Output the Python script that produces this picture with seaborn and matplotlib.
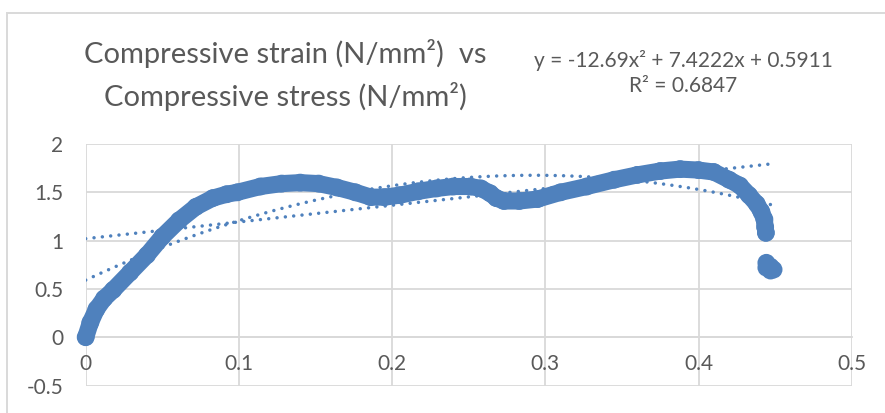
import numpy as np
import pandas as pd
import matplotlib
matplotlib.use("Agg")
import matplotlib.pyplot as plt
from matplotlib.patches import Rectangle
import seaborn as sns

# ---- data ----
strain = [0.000, 0.003, 0.007, 0.012, 0.018, 0.029, 0.040, 0.050, 0.061,
          0.072, 0.083, 0.092, 0.099, 0.114, 0.128, 0.140, 0.152, 0.164, 0.176,
          0.186, 0.195, 0.205, 0.217, 0.229, 0.240, 0.251, 0.258, 0.264, 0.268,
          0.273, 0.283, 0.295, 0.310, 0.327, 0.345, 0.360, 0.375, 0.388, 0.400,
          0.410, 0.420, 0.427, 0.433, 0.438, 0.441, 0.443, 0.4435, 0.444]
stress = [0.00, 0.15, 0.29, 0.40, 0.49, 0.67, 0.85, 1.04, 1.21,
          1.35, 1.44, 1.48, 1.50, 1.56, 1.59, 1.60, 1.59, 1.55, 1.50,
          1.45, 1.45, 1.47, 1.51, 1.54, 1.56, 1.56, 1.54, 1.49, 1.44,
          1.41, 1.41, 1.43, 1.50, 1.56, 1.63, 1.68, 1.72, 1.74, 1.73,
          1.71, 1.63, 1.57, 1.47, 1.38, 1.30, 1.22, 1.14, 1.08]
tail_strain = [0.4443, 0.4443, 0.447, 0.449, 0.447]
tail_stress = [0.77, 0.72, 0.73, 0.70, 0.69]

poly_coef = [-12.69, 7.4222, 0.5911]      # quadratic trendline (from label)
lin_coef = [1.73, 1.02]                  # linear trendline
x_ticks = [0, 0.1, 0.2, 0.3, 0.4, 0.5]
y_ticks = [-0.5, 0, 0.5, 1, 1.5, 2]
title_text = "Compressive strain (N/mm\u00b2)  vs\nCompressive stress (N/mm\u00b2)"
eq_text = "y = -12.69x\u00b2 + 7.4222x + 0.5911\nR\u00b2 = 0.6847"

BLUE = "#4f81bd"
GRID = "#d9d9d9"
TXT = "#595959"

sns.set_theme(style="white")
plt.rcParams['font.family'] = ['Lato', 'DejaVu Sans']

W, H = 885, 413
fig = plt.figure(figsize=(W / 100, H / 100), dpi=100)
ax = fig.add_axes([85.7 / W, 1 - 385.5 / H, (851.7 - 85.7) / W, (385.5 - 144) / H])

main = pd.DataFrame({"x": strain, "y": stress})
tail = pd.DataFrame({"x": tail_strain, "y": tail_stress})
allpts = pd.concat([main, tail], ignore_index=True)

sns.lineplot(data=main, x="x", y="y", sort=False, estimator=None, ax=ax,
             color=BLUE, linewidth=12.3, solid_capstyle="round",
             solid_joinstyle="round", zorder=3, clip_on=False)
sns.scatterplot(data=allpts, x="x", y="y", ax=ax, color=BLUE, s=165,
                edgecolor="none", linewidth=0, zorder=3, clip_on=False)

xs = np.linspace(0, max(tail_strain), 300)
trend = pd.DataFrame({"x": xs, "lin": np.polyval(lin_coef, xs),
                      "poly": np.polyval(poly_coef, xs)})
for col in ["lin", "poly"]:
    sns.lineplot(data=trend, x="x", y=col, ax=ax, color=BLUE, linewidth=2.5,
                 linestyle=(0, (0.01, 2.4)), dash_capstyle="round", zorder=4)

ax.set_xlim(0, 0.5)
ax.set_ylim(-0.5, 2)
ax.set_xticks(x_ticks)
ax.set_yticks(y_ticks)
ax.set_xticklabels([f"{v:g}" for v in x_ticks])
ax.set_yticklabels([f"{v:g}" for v in y_ticks])
ax.grid(True, color=GRID, lw=1.3)
ax.set_axisbelow(True)
for s in ["top", "right", "left"]:
    ax.spines[s].set_visible(False)
ax.spines["bottom"].set_position(("data", 0))
ax.spines["bottom"].set_color(GRID)
ax.spines["bottom"].set_linewidth(1.3)
ax.tick_params(axis="both", length=0, labelsize=15, labelcolor=TXT)
ax.tick_params(axis="x", pad=12)
ax.tick_params(axis="y", pad=16)
ax.set_xlabel("")
ax.set_ylabel("")

fig.text(285 / W, 1 - 75 / H, title_text, ha="center", va="center",
         fontsize=21, color=TXT, linespacing=1.62)
fig.text(683 / W, 1 - 73 / H, eq_text, ha="center", va="center",
         fontsize=15, color=TXT, linespacing=1.37)

fig.add_artist(Rectangle((7 / W, -0.2), 1.5, 1 - 13 / H + 0.2, fill=False,
                         edgecolor=GRID, lw=1.4, transform=fig.transFigure))

fig.savefig("out.png", dpi=100)
